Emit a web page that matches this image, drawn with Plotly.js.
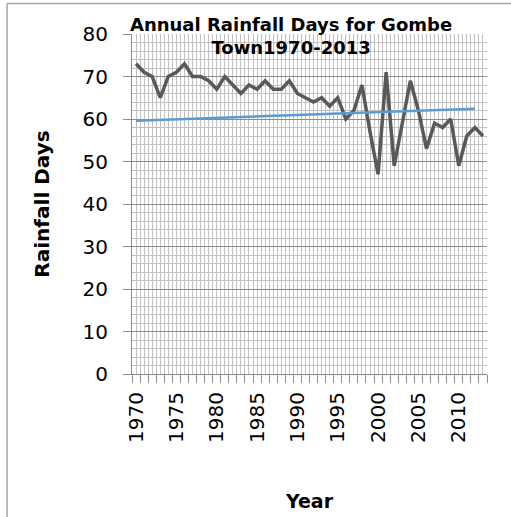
<!DOCTYPE html>
<html>
<head>
<meta charset="utf-8">
<script src="https://cdn.plot.ly/plotly-3.0.1.min.js"></script>
<style>html,body{margin:0;padding:0;background:#fff;}#chart{width:511px;height:517px;}</style>
</head>
<body>
<div id="chart"></div>
<script>
const years = [1970,1971,1972,1973,1974,1975,1976,1977,1978,1979,
  1980,1981,1982,1983,1984,1985,1986,1987,1988,1989,
  1990,1991,1992,1993,1994,1995,1996,1997,1998,1999,
  2000,2001,2002,2003,2004,2005,2006,2007,2008,2009,
  2010,2011,2012,2013];
const rainDays = [73,71,70,65,70,71,73,70,70,69,
  67,70,68,66,68,67,69,67,67,69,
  66,65,64,65,63,65,60,62,68,57,
  47,71,49,59,69,62,53,59,58,60,
  49,56,58,56];
const trendYears = [1970, 2012];
const trendValues = [59.6, 62.4];
const labelYears = [1970,1975,1980,1985,1990,1995,2000,2005,2010];

// gridline positions every half year, labels only at labelYears
const gridVals = [];
const gridText = [];
for (let v = years[0] - 0.5; v <= years[years.length-1] + 0.5 + 1e-9; v += 0.5) {
  gridVals.push(v);
  gridText.push(labelYears.includes(v) ? String(v) : '');
}

const font = '"DejaVu Sans", sans-serif';
const traces = [
  {x: years, y: rainDays, type: 'scatter', mode: 'lines',
   line: {color: '#595959', width: 3.5}, hoverinfo: 'x+y'},
  {x: trendYears, y: trendValues, type: 'scatter', mode: 'lines',
   line: {color: '#5b9bd5', width: 2.5}, hoverinfo: 'x+y'}
];
const layout = {
  width: 511, height: 517,
  margin: {l: 132, r: 24, t: 34, b: 143},
  paper_bgcolor: '#fff', plot_bgcolor: '#fff',
  showlegend: false,
  font: {family: font, color: '#000'},
  annotations: [
    {text: '<b>Annual Rainfall Days for Gombe<br>Town1970-2013</b>',
     xref: 'paper', yref: 'paper', x: 0.448, y: 0.995,
     xanchor: 'center', yanchor: 'middle', showarrow: false,
     font: {size: 18, family: font, color: '#000'}}
  ],
  xaxis: {
    range: [years[0] - 0.5, years[years.length-1] + 0.5],
    tickmode: 'array', tickvals: gridVals, ticktext: gridText,
    ticks: '', tickangle: -90,
    tickfont: {size: 20, family: font, color: '#000'},
    ticklabelstandoff: 9,
    showgrid: true, gridcolor: '#c0c0c0', gridwidth: 1,
    showline: true, linecolor: '#8c8c8c', linewidth: 1,
    zeroline: false, automargin: false,
    minor: {tickmode: 'linear', tick0: years[0] - 0.5, dtick: 1,
            ticks: 'outside', ticklen: 8, tickcolor: '#8c8c8c', showgrid: false},
    title: {text: '<b>Year</b>', font: {size: 19, family: font, color: '#000'}, standoff: 52}
  },
  yaxis: {
    range: [0, 80], dtick: 10, tick0: 0,
    ticks: 'outside', ticklen: 8, tickcolor: '#8c8c8c',
    tickfont: {size: 20, family: font, color: '#000'},
    ticklabelstandoff: 11,
    showgrid: true, gridcolor: '#8c8c8c', gridwidth: 1,
    showline: true, linecolor: '#8c8c8c', linewidth: 1,
    zeroline: false, automargin: false,
    minor: {dtick: 2, showgrid: true, gridcolor: '#c0c0c0', gridwidth: 1},
    title: {text: '<b>Rainfall Days</b>', font: {size: 20, family: font, color: '#000'}, standoff: 27}
  },
  shapes: [
    {type: 'line', xref: 'paper', yref: 'paper', x0: -0.352, x1: 1.2, y0: 1.09, y1: 1.09,
     line: {color: '#a6a6a6', width: 1.5}, layer: 'below'},
    {type: 'line', xref: 'paper', yref: 'paper', x0: -0.352, x1: -0.352, y0: 1.09, y1: -0.5,
     line: {color: '#a6a6a6', width: 1.5}, layer: 'below'}
  ]
};
Plotly.newPlot('chart', traces, layout, {displayModeBar: false, staticPlot: true});
</script>
</body>
</html>
